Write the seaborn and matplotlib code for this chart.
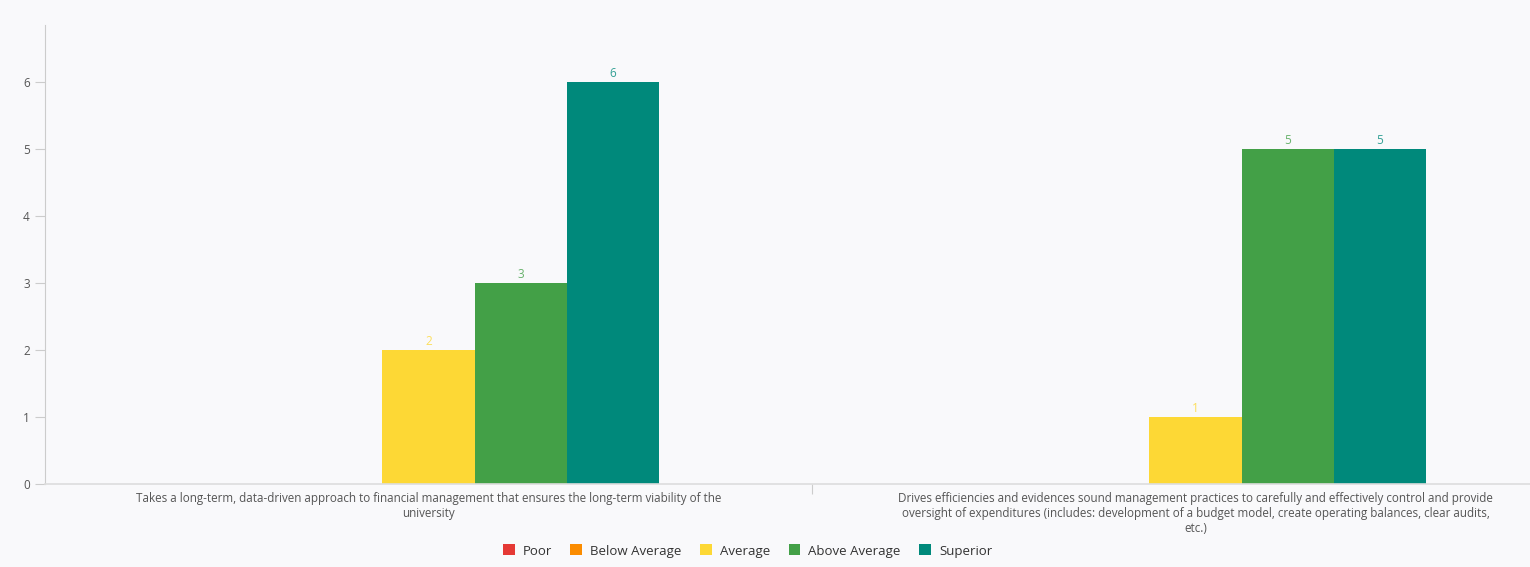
import pandas as pd
import numpy as np
import matplotlib
matplotlib.use("Agg")
import matplotlib.pyplot as plt
import seaborn as sns
from matplotlib.patches import Patch

# data
categories = [
    "Takes a long-term, data-driven approach to financial management that ensures the long-term viability of the\nuniversity",
    "Drives efficiencies and evidences sound management practices to carefully and effectively control and provide\noversight of expenditures (includes: development of a budget model, create operating balances, clear audits,\netc.)",
]
ratings = ["Poor", "Below Average", "Average", "Above Average", "Superior"]
poor = [0, 0]
below_average = [0, 0]
average = [2, 1]
above_average = [3, 5]
superior = [6, 5]
colors = ["#E53935", "#FB8C00", "#FDD835", "#43A047", "#00897B"]

rows = []
for rating, vals in zip(ratings, [poor, below_average, average, above_average, superior]):
    for cat, v in zip(categories, vals):
        rows.append({"category": cat, "rating": rating, "count": v})
df = pd.DataFrame(rows)

sns.set_style("white")
plt.rcParams["font.family"] = ["Open Sans", "DejaVu Sans"]

bg = "#F9F9FB"
fig = plt.figure(figsize=(15.3, 5.67), dpi=100, facecolor=bg)
ax = fig.add_axes([45 / 1530, 83 / 567, 1 - 45 / 1530, 459 / 567])
ax.set_facecolor(bg)

sns.barplot(data=df, x="category", y="count", hue="rating", hue_order=ratings,
            palette=colors, width=0.6, saturation=1, ax=ax, legend=False,
            edgecolor="none")

# value labels above bars, skip empty ones
for cont, col in zip(ax.containers, colors):
    labels = [f"{int(v)}" if v > 0 else "" for v in cont.datavalues]
    ax.bar_label(cont, labels=labels, padding=1.5, fontsize=8.5, color=col, alpha=0.8)

ax.set_xlim(-0.5, -0.5 + 1485 / 767)
ax.set_ylim(0, 6.85)
ax.set_yticks(range(0, 7))
ax.set_xlabel("")
ax.set_ylabel("")

ax.tick_params(axis="y", length=7, width=0.8, color="#cccccc", labelsize=8.5,
               labelcolor="#555555", pad=4, left=True)
ax.tick_params(axis="x", length=0, labelsize=8.4, labelcolor="#555555", pad=6)
ax.set_xticks([0.5], minor=True)
ax.tick_params(axis="x", which="minor", length=7, width=0.8, color="#cccccc", bottom=True)

for side in ["top", "right"]:
    ax.spines[side].set_visible(False)
ax.spines["left"].set_color("#cccccc")
ax.spines["bottom"].set_color("#dddddd")
ax.spines["left"].set_linewidth(0.8)
ax.spines["bottom"].set_linewidth(1.2)

handles = [Patch(facecolor=c, edgecolor="none") for c in colors]
fig.legend(handles, ratings, loc="center", bbox_to_anchor=(747.5 / 1530, 1 - 551 / 567),
           ncol=5, frameon=False, fontsize=9.5, handlelength=0.9, handleheight=0.9,
           handletextpad=0.6, columnspacing=1.4, labelcolor="#333333")

fig.savefig("out.png", dpi=100, facecolor=bg)
